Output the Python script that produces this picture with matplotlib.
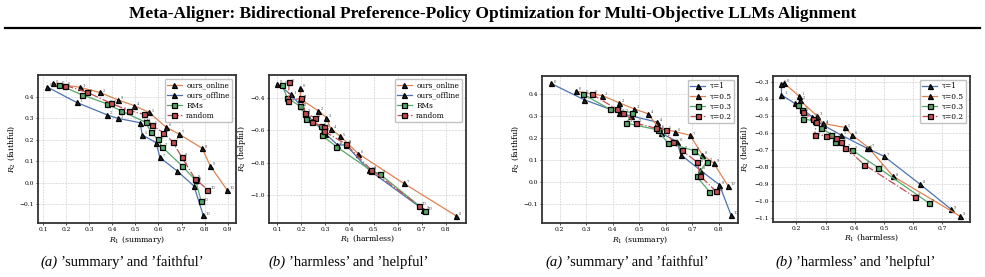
import numpy as np
import matplotlib
matplotlib.use("Agg")
import matplotlib.pyplot as plt
from matplotlib.lines import Line2D

plt.rcParams['font.family'] = 'DejaVu Serif'
plt.rcParams['mathtext.fontset'] = 'dejavuserif'

W, H = 985, 277

title = "Meta-Aligner: Bidirectional Preference-Policy Optimization for Multi-Objective LLMs Alignment"

#____________ (a) summary / faithful, methods ____________
a_online_x = [0.143, 0.259, 0.346, 0.426, 0.495, 0.559, 0.631, 0.689, 0.790, 0.824, 0.896]
a_online_y = [0.462, 0.443, 0.419, 0.384, 0.358, 0.327, 0.260, 0.226, 0.160, 0.079, -0.031]
a_offline_x = [0.117, 0.245, 0.378, 0.424, 0.520, 0.530, 0.590, 0.606, 0.680, 0.754, 0.794]
a_offline_y = [0.445, 0.373, 0.315, 0.299, 0.279, 0.222, 0.186, 0.118, 0.056, -0.015, -0.150]
a_rms_x = [0.169, 0.269, 0.375, 0.436, 0.544, 0.567, 0.596, 0.615, 0.703, 0.761, 0.785]
a_rms_y = [0.454, 0.408, 0.367, 0.335, 0.281, 0.237, 0.202, 0.167, 0.078, 0.012, -0.085]
a_rand_x = [0.197, 0.291, 0.394, 0.473, 0.537, 0.570, 0.621, 0.661, 0.700, 0.758, 0.812]
a_rand_y = [0.451, 0.420, 0.369, 0.335, 0.318, 0.268, 0.233, 0.191, 0.121, 0.020, -0.031]

#____________ (b) harmless / helpful, methods ____________
b_online_x = [0.195, 0.196, 0.270, 0.304, 0.322, 0.362, 0.436, 0.626, 0.845]
b_online_y = [-0.335, -0.404, -0.477, -0.520, -0.590, -0.637, -0.744, -0.930, -1.133]
b_offline_x = [0.100, 0.155, 0.200, 0.245, 0.290, 0.300, 0.350, 0.385, 0.482, 0.708]
b_offline_y = [-0.310, -0.375, -0.450, -0.540, -0.600, -0.620, -0.690, -0.690, -0.848, -1.094]
b_rms_x = [0.120, 0.140, 0.195, 0.215, 0.220, 0.280, 0.285, 0.345, 0.490, 0.525, 0.715]
b_rms_y = [-0.315, -0.395, -0.450, -0.500, -0.530, -0.575, -0.630, -0.700, -0.850, -0.870, -1.100]
b_rand_x = [0.149, 0.145, 0.200, 0.215, 0.255, 0.245, 0.295, 0.295, 0.385, 0.490, 0.690]
b_rand_y = [-0.300, -0.415, -0.400, -0.490, -0.520, -0.545, -0.580, -0.605, -0.685, -0.845, -1.070]

#____________ (a) summary / faithful, tau ____________
c_t1_x = [0.167, 0.292, 0.425, 0.470, 0.567, 0.584, 0.643, 0.657, 0.728, 0.803, 0.846]
c_t1_y = [0.448, 0.374, 0.315, 0.300, 0.272, 0.221, 0.183, 0.123, 0.055, -0.014, -0.150]
c_t05_x = [0.260, 0.360, 0.424, 0.479, 0.533, 0.575, 0.634, 0.692, 0.738, 0.781, 0.835]
c_t05_y = [0.413, 0.393, 0.360, 0.333, 0.310, 0.244, 0.229, 0.212, 0.123, 0.085, -0.018]
c_t03_x = [0.288, 0.389, 0.474, 0.452, 0.571, 0.607, 0.707, 0.755, 0.717, 0.765]
c_t03_y = [0.400, 0.330, 0.315, 0.267, 0.236, 0.177, 0.142, 0.092, 0.024, -0.045]
c_t02_x = [0.320, 0.416, 0.440, 0.487, 0.562, 0.600, 0.627, 0.660, 0.720, 0.730, 0.790]
c_t02_y = [0.400, 0.330, 0.315, 0.267, 0.244, 0.236, 0.179, 0.145, 0.088, 0.027, -0.044]

#____________ (b) harmless / helpful, tau ____________
d_t1_x = [0.149, 0.149, 0.194, 0.254, 0.291, 0.354, 0.443, 0.500, 0.623, 0.731]
d_t1_y = [-0.310, -0.375, -0.424, -0.503, -0.552, -0.612, -0.690, -0.736, -0.900, -1.050]
d_t05_x = [0.158, 0.209, 0.211, 0.272, 0.291, 0.366, 0.389, 0.448, 0.531, 0.760]
d_t05_y = [-0.305, -0.381, -0.405, -0.500, -0.543, -0.566, -0.608, -0.687, -0.854, -1.089]
d_t03_x = [0.206, 0.220, 0.223, 0.263, 0.283, 0.320, 0.331, 0.391, 0.480, 0.654]
d_t03_y = [-0.434, -0.464, -0.517, -0.527, -0.568, -0.608, -0.651, -0.700, -0.803, -1.012]
d_t02_x = [0.223, 0.257, 0.269, 0.263, 0.303, 0.337, 0.354, 0.368, 0.432, 0.606]
d_t02_y = [-0.474, -0.517, -0.533, -0.608, -0.615, -0.627, -0.651, -0.685, -0.785, -0.977]

method_names = ['ours_online', 'ours_offline', 'RMs', 'random']
tau_names = ['τ=1', 'τ=0.5', 'τ=0.3', 'τ=0.2']

colors = ['#dd8452', '#4c72b0', '#55a868', '#c44e52']
tau_colors = ['#4c72b0', '#dd8452', '#55a868', '#c44e52']
markers = ['^', '^', 's', 's']
styles = ['-', '-', '-', '-.']


def px_axes(l, r, t, b):
    return fig.add_axes([l / W, 1 - b / H, (r - l) / W, (b - t) / H])


def draw(ax, series, names, cols, xlabel, ylabel, xlim, ylim, xticks, yticks):
    for (x, y), name, c, m, ls in zip(series, names, cols, markers, styles):
        face = '#222222' if m == '^' else c
        ax.plot(x, y, ls, color=c, lw=0.9, marker=m, ms=3.6,
                mfc=face, mec='black', mew=0.9, label=name, zorder=3)
        for i, (xi, yi) in enumerate(zip(x, y)):
            ax.annotate(str(i), (xi, yi), xytext=(2, 0.5), textcoords='offset points',
                        fontsize=2.6, color='#444444')
    ax.set_xlim(*xlim)
    ax.set_ylim(*ylim)
    ax.set_xticks(xticks)
    ax.set_yticks(yticks)
    ax.grid(True, ls='--', lw=0.4, color='#c8c8c8')
    ax.tick_params(labelsize=4.3, length=1.5, width=0.5, pad=1.5)
    ax.set_xlabel(xlabel, fontsize=5.6, labelpad=1)
    ax.set_ylabel(ylabel, fontsize=5.6, labelpad=2)
    for s in ax.spines.values():
        s.set_linewidth(1.3)
        s.set_color('#333333')
    ax.legend(loc='upper right', fontsize=5.3, handlelength=2.0, borderpad=0.35,
              labelspacing=0.3, handletextpad=0.6, framealpha=0.9, edgecolor='#bbbbbb')


fig = plt.figure(figsize=(W / 100, H / 100), dpi=100)

fig.text(0.5, 1 - 14 / H, title, ha='center', va='center', fontsize=12.5,
         fontweight='bold', family='Liberation Serif')
fig.add_artist(Line2D([5 / W, 980 / W], [1 - 28 / H] * 2, color='black', lw=1.6))

ax1 = px_axes(38, 236, 75, 223)
draw(ax1, [(a_online_x, a_online_y), (a_offline_x, a_offline_y), (a_rms_x, a_rms_y), (a_rand_x, a_rand_y)],
     method_names, colors, '$R_1$ (summary)', '$R_2$ (faithful)',
     (0.078, 0.936), (-0.186, 0.50), np.arange(0.1, 0.95, 0.1), [-0.1, 0.0, 0.1, 0.2, 0.3, 0.4])

ax2 = px_axes(269, 466, 75, 223)
draw(ax2, [(b_online_x, b_online_y), (b_offline_x, b_offline_y), (b_rms_x, b_rms_y), (b_rand_x, b_rand_y)],
     method_names, colors, '$R_1$ (harmless)', '$R_2$ (helpful)',
     (0.065, 0.885), (-1.177, -0.254), np.arange(0.1, 0.85, 0.1), [-1.0, -0.8, -0.6, -0.4])

ax3 = px_axes(542, 738, 76, 223)
draw(ax3, [(c_t1_x, c_t1_y), (c_t05_x, c_t05_y), (c_t03_x, c_t03_y), (c_t02_x, c_t02_y)],
     tau_names, tau_colors, '$R_1$ (summary)', '$R_2$ (faithful)',
     (0.133, 0.873), (-0.188, 0.482), np.arange(0.2, 0.85, 0.1), [-0.1, 0.0, 0.1, 0.2, 0.3, 0.4])

ax4 = px_axes(773, 970, 76, 222)
draw(ax4, [(d_t1_x, d_t1_y), (d_t05_x, d_t05_y), (d_t03_x, d_t03_y), (d_t02_x, d_t02_y)],
     tau_names, tau_colors, '$R_1$ (harmless)', '$R_2$ (helpful)',
     (0.12, 0.795), (-1.124, -0.263), np.arange(0.2, 0.75, 0.1), np.arange(-1.1, -0.25, 0.1))

captions = [(40, '(a)', "’summary’ and ’faithful’"),
            (268, '(b)', "’harmless’ and ’helpful’"),
            (545, '(a)', "’summary’ and ’faithful’"),
            (775, '(b)', "’harmless’ and ’helpful’")]
for x0, tag, txt in captions:
    fig.text(x0 / W, 1 - 262 / H, tag, ha='left', va='center', fontsize=10.5,
             style='italic', family='Liberation Serif')
    fig.text((x0 + 21) / W, 1 - 262 / H, txt, ha='left', va='center', fontsize=10.5,
             family='Liberation Serif')

fig.savefig('out.png', dpi=100)
